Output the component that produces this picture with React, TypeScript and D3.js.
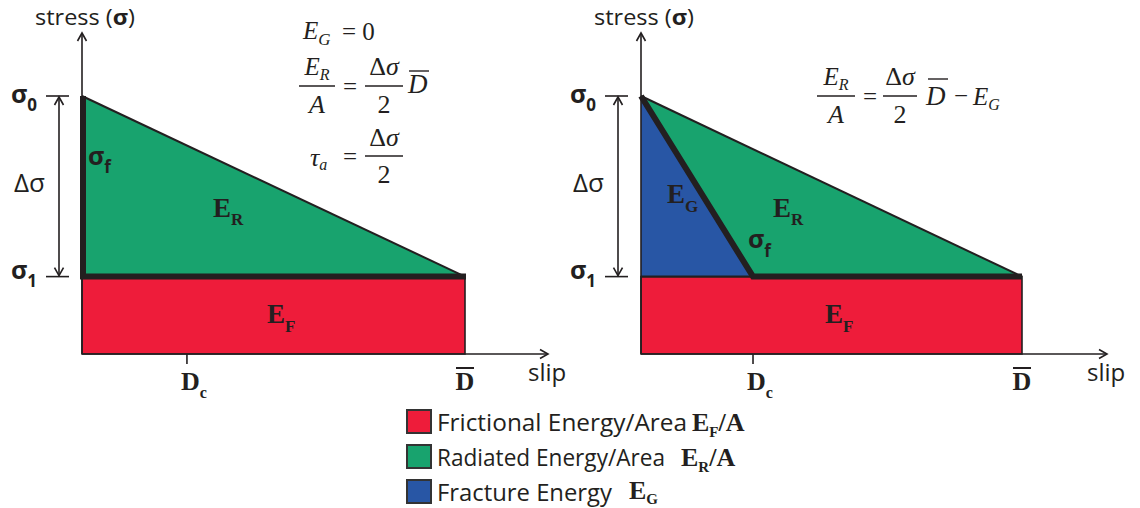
import React from "react";
import * as d3 from "d3";

// ---- data ----
const stressLevels = [1.0, 0.3]; // σ0 (initial), σ1 (final) stress, relative
const slipEnd = [1.0]; // D̄ (average slip)
const criticalSlip = [0.274, 0.294]; // D_c marked on each panel
const weakeningSlip = [0, 0.294]; // slip at which stress reaches σf (0 => instantaneous drop)
const legendLabels = ["Frictional Energy/Area", "Radiated Energy/Area", "Fracture Energy"];
const legendMain = ["E", "E", "E"];
const legendSubs = ["F", "R", "G"];
const legendTails = ["/A", "/A", ""];
const legendColors = ["#EE1C3A", "#18A36E", "#2856A5"];

const INK = "#231F20";
const SANS = "'Open Sans', 'Noto Sans', sans-serif";
const SERIF = "'Liberation Serif', 'DejaVu Serif', serif";

const AXIS_X0 = [82, 641];
const AXIS_XD = [465, 1022];
const AXIS_XEND = [548, 1107];
const Y_BASE = 354;
const Y_S0 = 96;
const Y_TOP = 33;
const LEGEND_WIDTHS = [250, 228, 175];
const LEGEND_SYM_X = [692, 681, 629];

function SubText({ x, y, main, sub, size, subSize, font, weight, style, anchor, dy, tail }: any) {
  const d = dy ?? Math.round(size * 0.3);
  return (
    <text x={x} y={y} fontFamily={font} fontSize={size} fontWeight={weight || "normal"} fontStyle={style || "normal"} fill={INK} textAnchor={anchor || "start"}>
      {main}
      <tspan dy={d} fontSize={subSize}>{sub}</tspan>
      {tail ? <tspan dy={-d}>{tail}</tspan> : null}
    </text>
  );
}

function Chevron({ x, y, dir }: any) {
  const w = 4.5, h = 8;
  let p = "";
  if (dir === "up") p = `M${x - w},${y + h}L${x},${y}L${x + w},${y + h}`;
  if (dir === "down") p = `M${x - w},${y - h}L${x},${y}L${x + w},${y - h}`;
  if (dir === "right") p = `M${x - h},${y - w}L${x},${y}L${x - h},${y + w}`;
  return <path d={p} fill="none" stroke={INK} strokeWidth={1.6} />;
}

function Panel({ i }: { i: number }) {
  const x = d3.scaleLinear().domain([0, slipEnd[0]]).range([AXIS_X0[i], AXIS_XD[i]]);
  const y = d3.scaleLinear().domain([0, stressLevels[0]]).range([Y_BASE, Y_S0]);
  const s0 = stressLevels[0];
  const s1 = stressLevels[1];
  const D = slipEnd[0];
  const dc = criticalSlip[i];
  const wf = weakeningSlip[i];
  const line = d3.line<[number, number]>().x((d) => x(d[0])).y((d) => y(d[1]));

  const red = line([[0, 0], [0, s1], [D, s1], [D, 0]]) + "Z";
  const blue = wf > 0 ? line([[0, s0], [0, s1], [wf, s1]]) + "Z" : null;
  const green = line([[0, s0], [wf, s1], [D, s1]]) + "Z";
  const thick = line([[0, s0], [wf, s1], [D, s1]]);
  const hyp = line([[0, s0], [D, s1]]);

  const ax = x(0);
  const tickL = ax - 36;
  const tickR = ax - 13;
  const arrX = ax - 23;

  return (
    <g>
      <path d={red} fill={legendColors[0]} stroke={INK} strokeWidth={1.6} />
      {blue && <path d={blue} fill={legendColors[2]} stroke="none" />}
      <path d={green} fill={legendColors[1]} stroke="none" />
      <path d={hyp} fill="none" stroke={INK} strokeWidth={2} />
      {wf > 0 && <line x1={x(0)} x2={x(wf)} y1={y(s1)} y2={y(s1)} stroke={INK} strokeWidth={2} />}
      {/* axes */}
      <line x1={ax} x2={ax} y1={Y_BASE} y2={Y_TOP + 1} stroke={INK} strokeWidth={1.6} />
      <Chevron x={ax} y={Y_TOP} dir="up" />
      <line x1={ax} x2={AXIS_XEND[i] - 1} y1={Y_BASE} y2={Y_BASE} stroke={INK} strokeWidth={1.6} />
      <Chevron x={AXIS_XEND[i]} y={Y_BASE} dir="right" />
      <path d={thick} fill="none" stroke={INK} strokeWidth={6} strokeLinejoin="miter" strokeLinecap="butt" transform={wf > 0 ? "" : "translate(1,0)"} />

      {/* stress ticks and Δσ arrow */}
      <line x1={tickL} x2={tickR} y1={y(s0)} y2={y(s0)} stroke={INK} strokeWidth={1.6} />
      <line x1={tickL} x2={tickR} y1={y(s1)} y2={y(s1)} stroke={INK} strokeWidth={1.6} />
      <line x1={arrX} x2={arrX} y1={y(s0) + 1} y2={y(s1) - 1} stroke={INK} strokeWidth={1.6} />
      <Chevron x={arrX} y={y(s0) + 1} dir="up" />
      <Chevron x={arrX} y={y(s1) - 1} dir="down" />

      {/* D_c tick */}
      <line x1={x(dc)} x2={x(dc)} y1={Y_BASE} y2={Y_BASE + 10} stroke={INK} strokeWidth={1.6} />

      {/* axis titles */}
      <text x={ax - 47} y={25} fontFamily={SANS} fontSize={22} fill={INK} textLength={100} lengthAdjust="spacingAndGlyphs">
        stress (<tspan fontWeight="bold">σ</tspan>)
      </text>
      <text x={AXIS_XEND[i] - 20} y={381} fontFamily={SANS} fontSize={24} fill={INK}>slip</text>

      {/* stress labels */}
      <SubText x={ax - 71} y={103} main="σ" sub="0" size={25} subSize={17} font={SANS} weight="bold" dy={8} />
      <SubText x={ax - 71} y={279} main="σ" sub="1" size={25} subSize={17} font={SANS} weight="bold" dy={8} />
      <text x={ax - 68} y={192} fontFamily={SANS} fontSize={26} fill={INK}>Δσ</text>

      {/* slip labels */}
      <SubText x={x(dc) - 6} y={390} main="D" sub="c" size={26} subSize={16} font={SERIF} weight="bold" dy={8} />
      <text x={x(D)} y={390} fontFamily={SERIF} fontSize={26} fontWeight="bold" fill={INK} textAnchor="middle">D</text>
      <line x1={x(D) - 9} x2={x(D) + 9} y1={368} y2={368} stroke={INK} strokeWidth={2} />
    </g>
  );
}

export default function App() {
  const legendY = [410, 445, 480];
  return (
    <svg width={1140} height={508} style={{ position: "absolute", left: 0, top: 0, background: "#fff" }}>
      <rect width={1140} height={508} fill="#fff" />
      <Panel i={0} />
      <Panel i={1} />

      {/* left panel area labels */}
      <SubText x={88} y={165} main="σ" sub="f" size={25} subSize={17} font={SANS} weight="bold" dy={8} />
      <SubText x={213} y={217} main="E" sub="R" size={27} subSize={17} font={SERIF} weight="bold" dy={8} />
      <SubText x={267} y={323} main="E" sub="F" size={27} subSize={17} font={SERIF} weight="bold" dy={9} />

      {/* right panel area labels */}
      <SubText x={667} y={203} main="E" sub="G" size={27} subSize={17} font={SERIF} weight="bold" dy={9} />
      <SubText x={773} y={217} main="E" sub="R" size={27} subSize={17} font={SERIF} weight="bold" dy={8} />
      <SubText x={748} y={248} main="σ" sub="f" size={25} subSize={17} font={SANS} weight="bold" dy={9} />
      <SubText x={825} y={323} main="E" sub="F" size={27} subSize={17} font={SERIF} weight="bold" dy={9} />

      {/* left equations */}
      <g fontFamily={SERIF} fill={INK}>
        <SubText x={303} y={39} main="E" sub="G" size={25} subSize={17} font={SERIF} style="italic" dy={6} />
        <text x={342} y={40} fontSize={25}>= 0</text>

        <SubText x={317} y={75} main="E" sub="R" size={25} subSize={16} font={SERIF} style="italic" dy={5} anchor="middle" />
        <line x1={299} x2={335} y1={86} y2={86} stroke={INK} strokeWidth={1.4} />
        <text x={317} y={113} fontSize={26} fontStyle="italic" textAnchor="middle">A</text>
        <text x={350} y={95} fontSize={25} textAnchor="middle">=</text>
        <text x={384} y={75} fontSize={26} textAnchor="middle">Δ<tspan fontStyle="italic">σ</tspan></text>
        <line x1={365} x2={403} y1={86} y2={86} stroke={INK} strokeWidth={1.4} />
        <text x={384} y={113} fontSize={26} textAnchor="middle">2</text>
        <text x={408} y={93} fontSize={27} fontStyle="italic">D</text>
        <line x1={409} x2={429} y1={71} y2={71} stroke={INK} strokeWidth={1.4} />

        <SubText x={310} y={166} main="τ" sub="a" size={26} subSize={16} font={SERIF} style="italic" dy={4} />
        <text x={350} y={165} fontSize={25} textAnchor="middle">=</text>
        <text x={384} y={146} fontSize={26} textAnchor="middle">Δ<tspan fontStyle="italic">σ</tspan></text>
        <line x1={365} x2={403} y1={156} y2={156} stroke={INK} strokeWidth={1.4} />
        <text x={384} y={183} fontSize={26} textAnchor="middle">2</text>
      </g>

      {/* right equation */}
      <g fontFamily={SERIF} fill={INK}>
        <SubText x={836} y={85} main="E" sub="R" size={25} subSize={16} font={SERIF} style="italic" dy={5} anchor="middle" />
        <line x1={817} x2={855} y1={96} y2={96} stroke={INK} strokeWidth={1.4} />
        <text x={836} y={123} fontSize={26} fontStyle="italic" textAnchor="middle">A</text>
        <text x={870} y={105} fontSize={25} textAnchor="middle">=</text>
        <text x={900} y={85} fontSize={26} textAnchor="middle">Δ<tspan fontStyle="italic">σ</tspan></text>
        <line x1={883} x2={917} y1={96} y2={96} stroke={INK} strokeWidth={1.4} />
        <text x={900} y={123} fontSize={26} textAnchor="middle">2</text>
        <text x={926} y={105} fontSize={27} fontStyle="italic">D</text>
        <line x1={928} x2={948} y1={79} y2={79} stroke={INK} strokeWidth={1.4} />
        <text x={961} y={104} fontSize={25} textAnchor="middle">−</text>
        <SubText x={973} y={105} main="E" sub="G" size={25} subSize={16} font={SERIF} style="italic" dy={5} />
      </g>

      {/* legend */}
      {legendLabels.map((lab, k) => (
        <g key={lab}>
          <rect x={407} y={legendY[k]} width={24} height={23} fill={legendColors[k]} stroke="#333" strokeWidth={2} />
          <text x={437} y={legendY[k] + 21} fontFamily={SANS} fontSize={24} fill={INK} textLength={LEGEND_WIDTHS[k]} lengthAdjust="spacingAndGlyphs">{lab}</text>
          <SubText x={LEGEND_SYM_X[k]} y={legendY[k] + (k === 2 ? 19 : 21)} main={legendMain[k]} sub={legendSubs[k]} tail={legendTails[k]} size={26} subSize={15} font={SERIF} weight="bold" dy={k === 2 ? 5 : 6} />
        </g>
      ))}
    </svg>
  );
}
